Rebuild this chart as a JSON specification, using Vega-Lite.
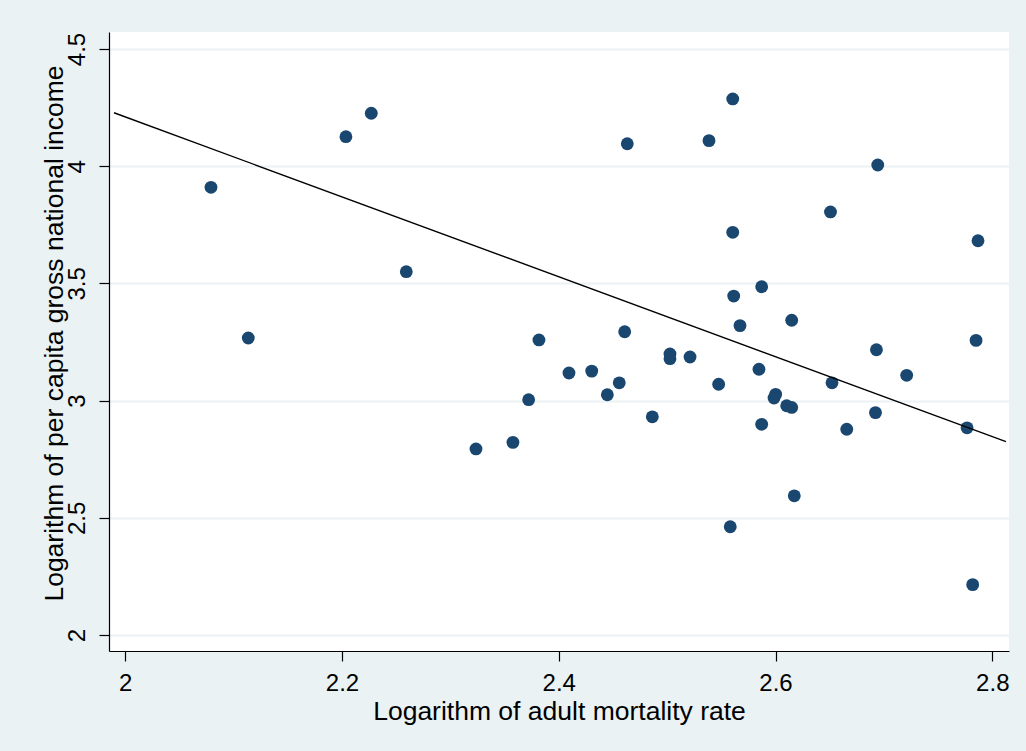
{
  "$schema": "https://vega.github.io/schema/vega-lite/v6.json",
  "width": 900,
  "height": 619,
  "autosize": {"type": "none"},
  "padding": {"left": 109, "top": 32, "right": 17, "bottom": 100},
  "background": "#EAF2F3",
  "config": {
    "view": {"fill": "#FFFFFF", "stroke": null},
    "font": "Liberation Sans",
    "axis": {
      "labelFont": "Liberation Sans",
      "titleFont": "Liberation Sans",
      "labelColor": "#000000",
      "titleColor": "#000000",
      "titleFontWeight": "normal",
      "domainColor": "#000000",
      "domainWidth": 1.2,
      "tickColor": "#000000",
      "tickWidth": 1.2,
      "tickSize": 10,
      "labelFontSize": 24,
      "titleFontSize": 26.5
    }
  },
  "layer": [
    {
      "data": {"name": "points", "values": [
        {"mort": 2.0791, "inc": 3.910},
        {"mort": 2.1135, "inc": 3.267},
        {"mort": 2.2036, "inc": 4.126},
        {"mort": 2.2270, "inc": 4.226},
        {"mort": 2.2593, "inc": 3.550},
        {"mort": 2.3236, "inc": 2.794},
        {"mort": 2.3577, "inc": 2.822},
        {"mort": 2.3722, "inc": 3.004},
        {"mort": 2.3817, "inc": 3.259},
        {"mort": 2.4094, "inc": 3.118},
        {"mort": 2.4304, "inc": 3.126},
        {"mort": 2.4448, "inc": 3.025},
        {"mort": 2.4558, "inc": 3.076},
        {"mort": 2.4608, "inc": 3.294},
        {"mort": 2.4632, "inc": 4.096},
        {"mort": 2.4863, "inc": 2.931},
        {"mort": 2.5026, "inc": 3.199},
        {"mort": 2.5026, "inc": 3.179},
        {"mort": 2.5211, "inc": 3.186},
        {"mort": 2.5386, "inc": 4.109},
        {"mort": 2.5475, "inc": 3.070},
        {"mort": 2.5582, "inc": 2.462},
        {"mort": 2.5605, "inc": 4.287},
        {"mort": 2.5605, "inc": 3.718},
        {"mort": 2.5614, "inc": 3.446},
        {"mort": 2.5672, "inc": 3.320},
        {"mort": 2.5847, "inc": 3.134},
        {"mort": 2.5872, "inc": 3.486},
        {"mort": 2.5872, "inc": 2.899},
        {"mort": 2.6001, "inc": 3.027},
        {"mort": 2.5986, "inc": 3.011},
        {"mort": 2.6103, "inc": 2.978},
        {"mort": 2.6149, "inc": 2.971},
        {"mort": 2.6149, "inc": 3.343},
        {"mort": 2.6173, "inc": 2.594},
        {"mort": 2.6507, "inc": 3.805},
        {"mort": 2.6521, "inc": 3.076},
        {"mort": 2.6657, "inc": 2.878},
        {"mort": 2.6922, "inc": 2.949},
        {"mort": 2.6931, "inc": 3.217},
        {"mort": 2.6943, "inc": 4.005},
        {"mort": 2.7210, "inc": 3.108},
        {"mort": 2.7767, "inc": 2.884},
        {"mort": 2.7819, "inc": 2.215},
        {"mort": 2.7850, "inc": 3.257},
        {"mort": 2.7868, "inc": 3.682}
      ]},
      "mark": {"type": "circle", "color": "#1A476F", "opacity": 1, "size": 165},
      "encoding": {
        "x": {
          "field": "mort", "type": "quantitative",
          "scale": {"domain": [1.985, 2.8154], "nice": false, "zero": false},
          "axis": {
            "title": "Logarithm of adult mortality rate",
            "values": [2, 2.2, 2.4, 2.6, 2.8],
            "format": "~g",
            "grid": false,
            "labelPadding": 10,
            "titleY": 68,
            "titleBaseline": "alphabetic"
          }
        },
        "y": {
          "field": "inc", "type": "quantitative",
          "scale": {"domain": [1.932, 4.5725], "nice": false, "zero": false},
          "axis": {
            "title": "Logarithm of per capita gross national income",
            "values": [2, 2.5, 3, 3.5, 4, 4.5],
            "format": "~g",
            "grid": true,
            "gridColor": "#EAF2F3",
            "gridWidth": 2,
            "labelAngle": -90,
            "labelAlign": "center",
            "labelBaseline": "bottom",
            "labelPadding": 10,
            "titleX": -47,
            "titleY": 301,
            "titleAngle": -90,
            "titleAlign": "center",
            "titleBaseline": "alphabetic"
          }
        }
      }
    },
    {
      "data": {"name": "fit", "values": [
        {"mort": 1.9896, "inc": 4.228},
        {"mort": 2.8126, "inc": 2.825}
      ]},
      "mark": {"type": "line", "color": "#000000", "strokeWidth": 1.4},
      "encoding": {
        "x": {"field": "mort", "type": "quantitative"},
        "y": {"field": "inc", "type": "quantitative"}
      }
    }
  ]
}
